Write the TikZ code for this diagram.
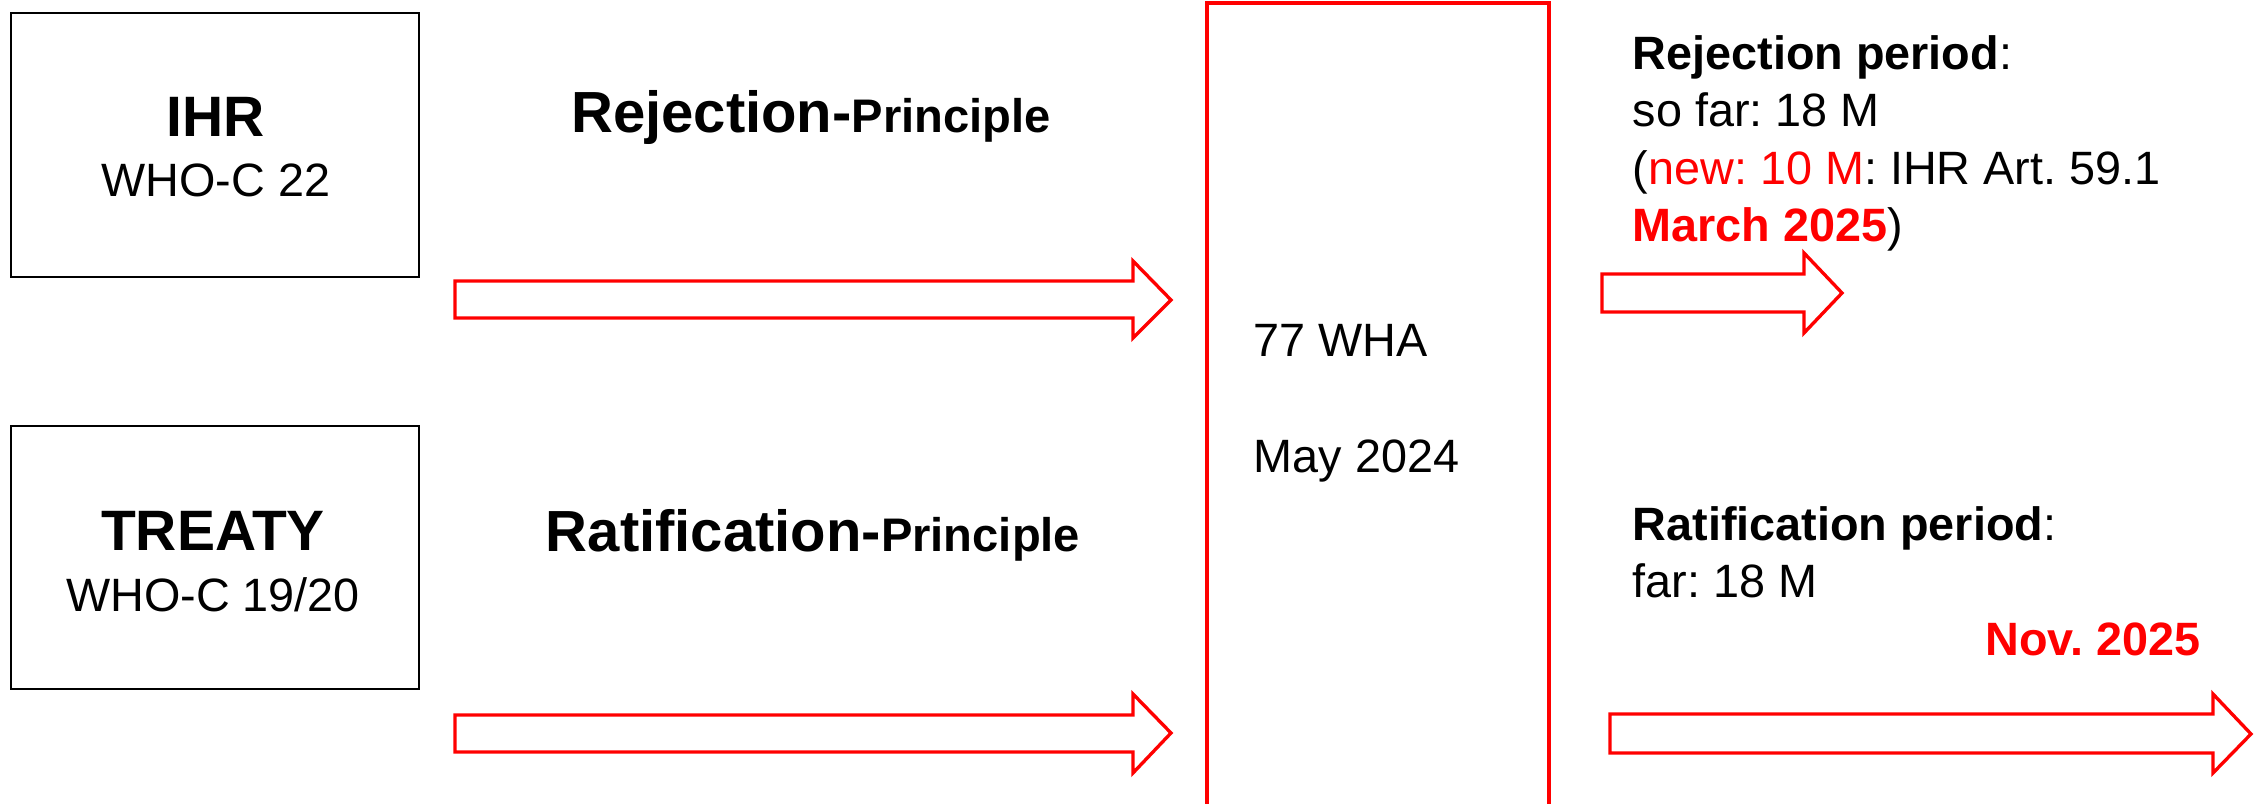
\documentclass[tikz,border=0pt]{standalone}
\usepackage{fontspec}
\setmainfont{Liberation Sans}
\definecolor{pptred}{RGB}{255,0,0}
\frenchspacing
\begin{document}
\frenchspacing
\begin{tikzpicture}[x=0.01cm,y=-0.01cm,
  blackbox/.style={draw=black, line width=0.6pt, inner sep=0},
  redline/.style={draw=pptred, line width=0.95pt, line join=miter},
  bigbold/.style={font=\fontsize{16.2}{20}\selectfont\bfseries},
  txt/.style={font=\fontsize{13.3}{16}\selectfont, inner sep=0},
  lbl/.style={inner sep=0}]
\useasboundingbox (0,0) rectangle (2266,804);
% left boxes
\node[blackbox, minimum width=4.08cm, minimum height=2.64cm] (ihr) at (215,145) {};
\node[blackbox, minimum width=4.08cm, minimum height=2.63cm] (treaty) at (215,557.5) {};
\node[lbl, bigbold, anchor=base] (ihrt) at (216,137) {IHR};
\node[txt, anchor=base] (ihrs) at (216,197) {WHO-C 22};
\node[lbl, bigbold, anchor=base] (trt) at (213,551) {TREATY};
\node[txt, anchor=base] (trs) at (213,612) {WHO-C 19/20};
% principles
\node[lbl, anchor=base] (rejp) at (811,133) {{\fontsize{16.5}{20}\selectfont\bfseries Rejection-}{\fontsize{13.4}{16}\selectfont\bfseries Principle}};
\node[lbl, anchor=base] (ratp) at (813,552) {{\fontsize{16.5}{20}\selectfont\bfseries Ratification-}{\fontsize{13.4}{16}\selectfont\bfseries Principle}};
% block arrows
\draw[redline] (455,281) -- (1133,281) -- (1133,261) -- (1171,300) -- (1133,338) -- (1133,318) -- (455,318) -- cycle;
\draw[redline] (455,715) -- (1133,715) -- (1133,694) -- (1171,733) -- (1133,773) -- (1133,752) -- (455,752) -- cycle;
\draw[redline] (1602,274) -- (1804,274) -- (1804,253) -- (1842,293) -- (1804,333) -- (1804,312) -- (1602,312) -- cycle;
\draw[redline] (1610,714) -- (2213,714) -- (2213,694) -- (2251,734) -- (2213,773) -- (2213,753) -- (1610,753) -- cycle;
% WHA box
\coordinate (whabl) at (1207,830);
\coordinate (whabr) at (1549,830);
\draw[redline] (whabl) -- (1207,3) -- (1549,3) -- (whabr);
\node[txt, anchor=base west] (wha) at (1253,357) {77 WHA};
\node[txt, anchor=base west] (may) at (1253,473) {May 2024};
% right texts
\node[txt, anchor=base west] (rp) at (1632,70) {\textbf{Rejection period}:};
\node[txt, anchor=base west] (sf) at (1632,127) {so far: 18 M};
\node[txt, anchor=base west] (nw) at (1632,185) {(\textcolor{pptred}{new: 10 M}: IHR Art. 59.1};
\node[txt, anchor=base west] (mr) at (1632,242) {\textcolor{pptred}{\textbf{March 2025}})};
\node[txt, anchor=base west] (rat) at (1632,541) {\textbf{Ratification period}:};
\node[txt, anchor=base west] (far) at (1632,598) {far: 18 M};
\node[txt, anchor=base east] (nov) at (2201,656) {\textcolor{pptred}{\textbf{Nov. 2025}}};
\end{tikzpicture}
\end{document}
